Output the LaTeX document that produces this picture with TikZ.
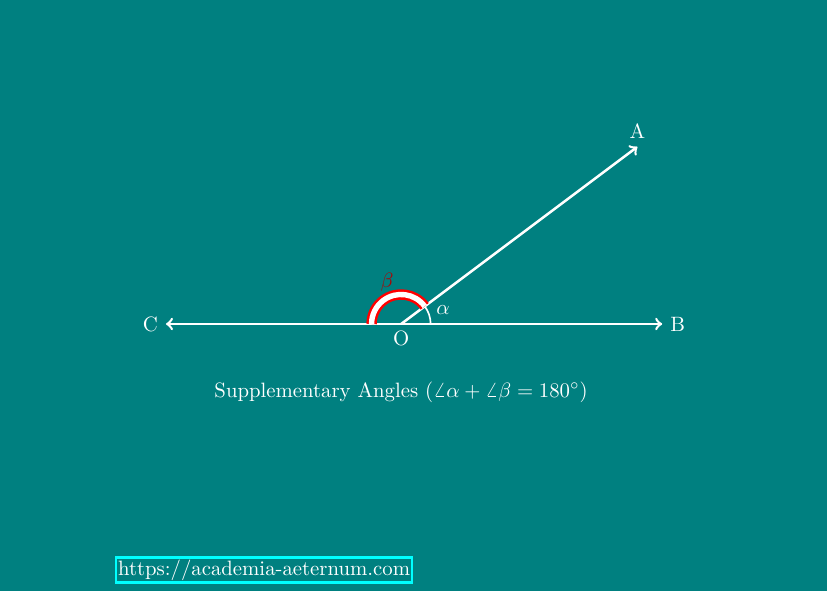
\documentclass[tikz,border=0pt]{standalone}
\usetikzlibrary{positioning}
\definecolor{urlcyan}{RGB}{0,255,255}
\begin{document}
\begin{tikzpicture}[every node/.style={text=white}]
	% Bakgrunn
	\fill[teal] (-6.79,-4.515) rectangle (7.21,5.485);
	\useasboundingbox (-6.79,-4.515) rectangle (7.21,5.485);

	% Punkter
	\coordinate (O) at (0,0);
	\coordinate (A) at (4,3);
	\coordinate (B) at (4.42,0);
	\coordinate (C) at (-3.98,0);

	% Stråler
	\draw[->,white,very thick] (O) -- (A) node[above] {A};
	\draw[->,white,very thick] (O) -- (B) node[right] {B};
	\draw[->,white,very thick] (O) -- (C) node[left] {C};
	\node[below] (Olabel) at (O) {O};

	% Vinkel alpha
	\draw[white,thick] (0.5,0) arc (0:36.87:0.5);
	\node (alpha) at (18.43:0.75) {$\alpha$};

	% Vinkel beta (rød med hvit fyll)
	\draw[red,line width=1.2pt,double=white,double distance=2.6pt]
		(36.87:0.5) arc (36.87:180:0.5);
	\node[text=red!70!black] (beta) at (108.43:0.75) {$\beta$};

	% Tekst
	\node (caption) at (0,-1.15)
		{Supplementary Angles (\(\angle\alpha+\angle\beta=180^\circ\))};
	\node[draw=urlcyan,very thick,inner sep=1pt] (url) at (-2.32,-4.165)
		{https://academia-aeternum.com};
\end{tikzpicture}
\end{document}
